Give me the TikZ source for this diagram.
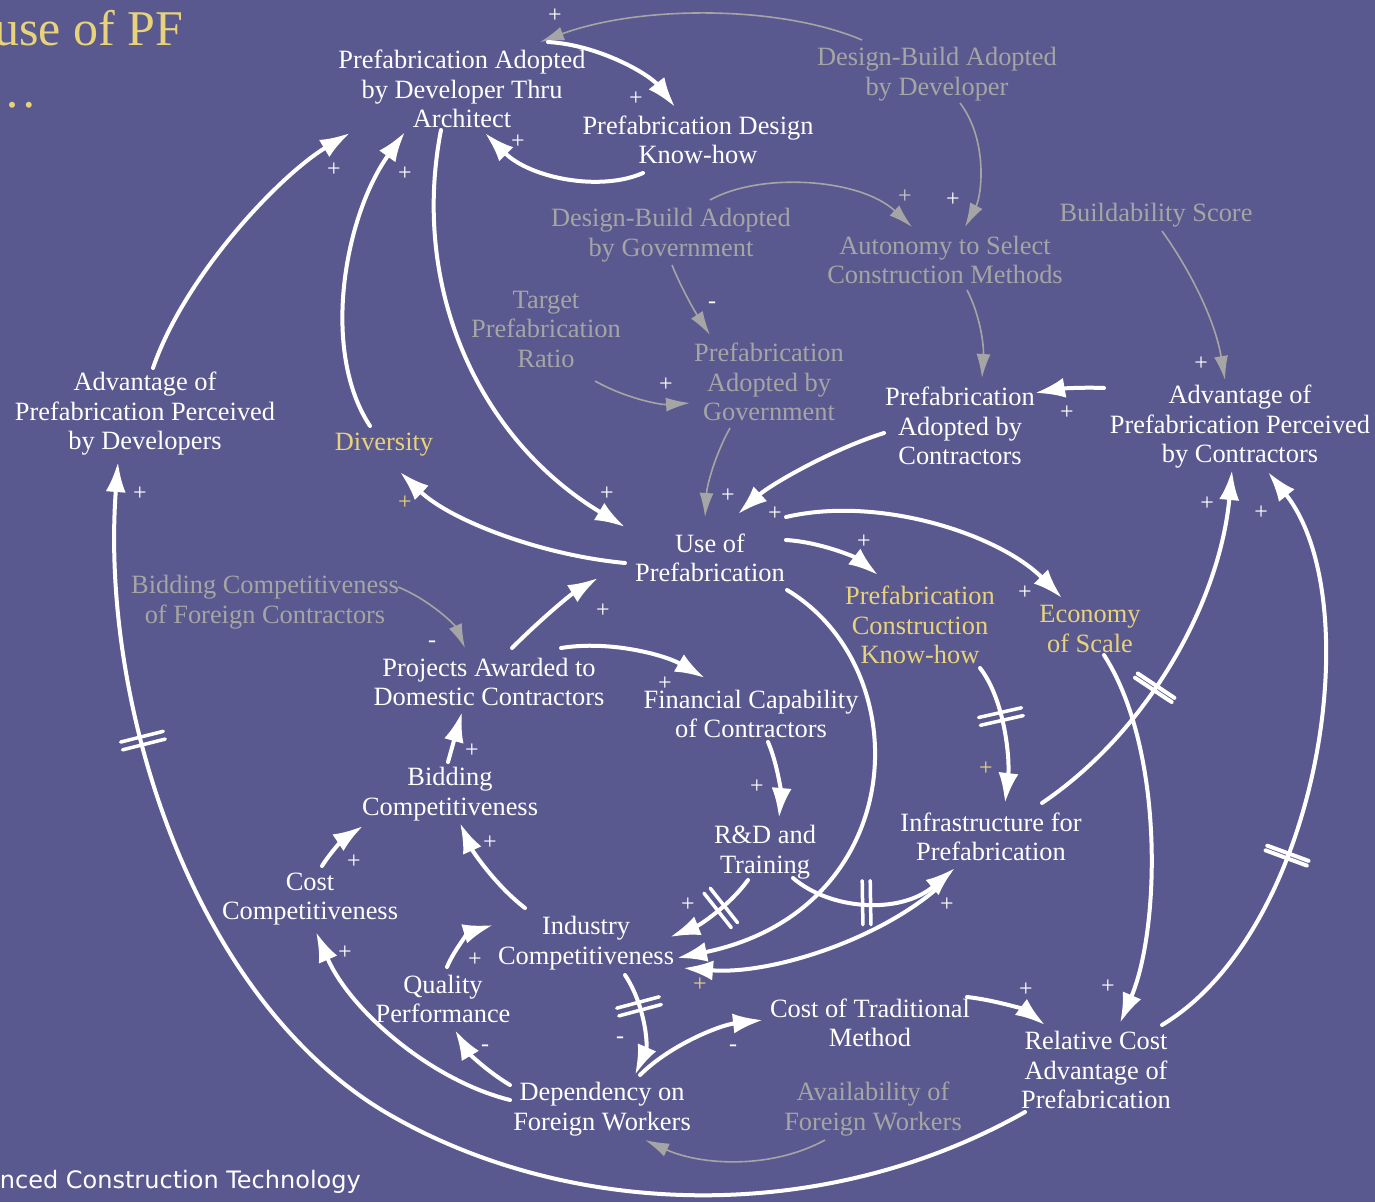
\documentclass[tikz,border=0pt]{standalone}
\usepackage{fontspec}
\setmainfont{Liberation Serif}
\newfontfamily\sansf{DejaVu Sans}
\usetikzlibrary{arrows.meta,decorations.markings}
\definecolor{bgc}{RGB}{90,89,143}
\definecolor{yc}{RGB}{232,211,122}
\definecolor{gc}{RGB}{165,165,165}
\begin{document}
\begin{tikzpicture}[x=1pt,y=-1pt,
  v/.style={font=\fontsize{26.4}{29.5}\selectfont,align=center,inner sep=0pt,text=white},
  vg/.style={v,text=gc},
  vy/.style={v,text=yc},
  sg/.style={font=\fontsize{24}{24}\selectfont,inner sep=0pt,text=white},
  sgy/.style={sg,text=yc},
  sgg/.style={sg,text=gc!60!white},
  arr/.style={draw=white,line width=4pt,line cap=round,-{Latex[length=30pt,width=20pt]}},
  garr/.style={draw=gc,line width=1.6pt,-{Latex[length=24pt,width=14pt]}},
  delaymark/.style={postaction={decorate,decoration={markings,mark=at position #1 with {\draw[white,line width=3.5pt,line cap=round,-] (-4,-22)--(-4,22) (4,-22)--(4,22);}}}},
  delaybar/.style={postaction={decorate,decoration={markings,mark=at position #1 with {\draw[white,line width=4pt,line cap=round,-] (-2.5,-22)--(-2.5,22) (2.5,-22)--(2.5,22);}}}}
]
\useasboundingbox (0,0) rectangle (1375,1202);
\clip (0,0) rectangle (1375,1202);
\fill[bgc] (0,0) rectangle (1375,1202);

% titles
\node[anchor=base west,inner sep=0pt,text=yc,font=\fontsize{50}{50}\selectfont] (title) at (-6,45) {use of PF};
\node[anchor=base west,inner sep=0pt,text=yc,font=\fontsize{50}{50}\selectfont] (dots) at (-13,107) {\ldots};
\node[anchor=base east,inner sep=0pt,text=white,font=\sansf\fontsize{24}{24}\selectfont] (foot) at (361,1188) {nced Construction Technology};

% variables
\node[v]  (devarch)  at (462,89)   {Prefabrication Adopted\\by Developer Thru\\Architect};
\node[v]  (designkh) at (698,140)  {Prefabrication Design\\Know-how};
\node[vg] (dbdev)    at (937,74)   {Design-Build Adopted\\by Developer};
\node[vg] (dbgov)    at (671,235)  {Design-Build Adopted\\by Government};
\node[vg] (auton)    at (945,260)  {Autonomy to Select\\Construction Methods};
\node[vg] (build)    at (1156,215) {Buildability Score};
\node[vg] (target)   at (546,329)  {Target\\Prefabrication\\Ratio};
\node[vg] (pfgov)    at (769,382)  {Prefabrication\\Adopted by\\Government};
\node[v]  (pfcon)    at (960,426)  {Prefabrication\\Adopted by\\Contractors};
\node[v]  (advcon)   at (1240,427) {Advantage of\\Prefabrication Perceived\\by Contractors};
\node[v]  (advdev)   at (145,414)  {Advantage of\\Prefabrication Perceived\\by Developers};
\node[vy] (div)      at (384,445)  {Diversity};
\node[v]  (use)      at (710,558)  {Use of\\Prefabrication};
\node[vy] (pckh)     at (920,625)  {Prefabrication\\Construction\\Know-how};
\node[vy] (econ)     at (1090,629) {Economy\\of Scale};
\node[vg] (bidf)     at (265,602)  {Bidding Competitiveness\\of Foreign Contractors};
\node[v]  (proj)     at (489,682)  {Projects Awarded to\\Domestic Contractors};
\node[v]  (fin)      at (751,714)  {Financial Capability\\of Contractors};
\node[v]  (bid)      at (450,794)  {Bidding\\Competitiveness};
\node[v]  (rd)       at (765,852)  {R\&D and\\Training};
\node[v]  (infra)    at (991,837)  {Infrastructure for\\Prefabrication};
\node[v]  (costc)    at (310,899)  {Cost\\Competitiveness};
\node[v]  (ind)      at (586,943)  {Industry\\Competitiveness};
\node[v]  (qual)     at (443,999)  {Quality\\Performance};
\node[v]  (costt)    at (870,1023) {Cost of Traditional\\Method};
\node[v]  (rel)      at (1096,1070){Relative Cost\\Advantage of\\Prefabrication};
\node[v]  (dep)      at (602,1109) {Dependency on\\Foreign Workers};
\node[vg] (avail)    at (873,1109) {Availability of\\Foreign Workers};

% gray links
\draw[garr] ([shift={(-75,-34)}]dbdev.center) .. controls (780,5) and (640,5) .. ([shift={(78,-47)}]devarch.center);
\draw[garr] ([shift={(23,29)}]dbdev.center) .. controls (988,140) and (982,195) .. ([shift={(20,-33)}]auton.center);
\draw[garr] ([shift={(39,-35)}]dbgov.center) .. controls (760,172) and (860,178) .. ([shift={(-33,-33)}]auton.center);
\draw[garr] ([shift={(1,30)}]dbgov.center) .. controls (682,290) and (697,315) .. ([shift={(-59,-47)}]pfgov.center);
\draw[garr] ([shift={(49,52)}]target.center) .. controls (625,398) and (660,405) .. ([shift={(-79,21)}]pfgov.center);
\draw[garr] ([shift={(22,30)}]auton.center) .. controls (980,315) and (984,345) .. ([shift={(22,-48)}]pfcon.center);
\draw[garr] ([shift={(6,16)}]build.center) .. controls (1190,270) and (1215,320) .. ([shift={(-15,-47)}]advcon.center);
\draw[garr] ([shift={(-39,46)}]pfgov.center) .. controls (715,455) and (707,485) .. ([shift={(-5,-41)}]use.center);
\draw[garr] ([shift={(133,-15)}]bidf.center) .. controls (430,600) and (455,625) .. ([shift={(-24,-34)}]proj.center);
\draw[garr] ([shift={(-48,31)}]avail.center) .. controls (770,1170) and (700,1165) .. ([shift={(43,31)}]dep.center);

% white links
\draw[arr] ([shift={(86,-47)}]devarch.center) .. controls (600,45) and (650,75) .. ([shift={(-23,-33)}]designkh.center);
\draw[arr] ([shift={(-55,33)}]designkh.center) .. controls (600,192) and (530,178) .. ([shift={(23,44)}]devarch.center);
\draw[arr] ([shift={(-136,-39)}]advcon.center) .. controls (1080,387) and (1058,389) .. ([shift={(75,-33)}]pfcon.center);
\draw[arr] ([shift={(-76,7)}]pfcon.center) .. controls (830,450) and (770,485) .. ([shift={(28,-44)}]use.center);
\draw[arr] ([shift={(76,-41)}]use.center) .. controls (880,495) and (1000,535) .. ([shift={(-28,-31)}]econ.center);
\draw[arr] ([shift={(76,-18)}]use.center) .. controls (820,542) and (855,557) .. ([shift={(-42,-50)}]pckh.center);
\draw[arr] ([shift={(-21,41)}]devarch.center) .. controls (410,290) and (480,440) .. ([shift={(-85,-31)}]use.center);
\draw[arr] ([shift={(-14,-19)}]div.center) .. controls (320,350) and (345,215) .. ([shift={(-57,43)}]devarch.center);
\draw[arr] ([shift={(-85,5)}]use.center) .. controls (540,555) and (450,520) .. ([shift={(16,27)}]div.center);
\draw[arr] ([shift={(8,-46)}]advdev.center) .. controls (185,275) and (280,175) .. ([shift={(-112,44)}]devarch.center);
\draw[arr] ([shift={(23,-34)}]proj.center) .. controls (540,620) and (570,595) .. ([shift={(-112,20)}]use.center);
\draw[arr] ([shift={(72,-34)}]proj.center) .. controls (610,640) and (665,655) .. ([shift={(-46,-36)}]fin.center);
\draw[arr] ([shift={(-2,-32)}]bid.center) -- ([shift={(-27,30)}]proj.center);
\draw[arr] ([shift={(17,28)}]fin.center) .. controls (778,765) and (781,795) .. ([shift={(14,-34)}]rd.center);
\draw[arr] ([shift={(12,-33)}]costc.center) .. controls (332,850) and (345,838) .. ([shift={(-87,32)}]bid.center);
\draw[arr] ([shift={(-61,-35)}]ind.center) .. controls (495,885) and (472,850) .. ([shift={(10,29)}]bid.center);
\draw[arr,delaymark=0.4] ([shift={(-17,28)}]rd.center) .. controls (730,905) and (700,925) .. ([shift={(84,-6)}]ind.center);
\draw[arr] ([shift={(77,32)}]use.center) .. controls (920,670) and (910,910) .. ([shift={(91,15)}]ind.center);
\draw[arr,delaymark=0.45] ([shift={(28,26)}]rd.center) .. controls (830,910) and (900,915) .. ([shift={(-36,31)}]infra.center);
\draw[arr] ([shift={(-50,48)}]infra.center) .. controls (880,940) and (770,975) .. ([shift={(97,25)}]ind.center);
\draw[arr,delaymark=0.33] ([shift={(39,32)}]ind.center) .. controls (645,1005) and (648,1045) .. ([shift={(33,-34)}]dep.center);
\draw[arr] ([shift={(38,-34)}]dep.center) .. controls (670,1045) and (720,1025) .. ([shift={(-107,-3)}]costt.center);
\draw[arr] ([shift={(-92,-24)}]dep.center) .. controls (485,1070) and (468,1052) .. ([shift={(12,31)}]qual.center);
\draw[arr] ([shift={(4,-32)}]qual.center) .. controls (455,948) and (470,932) .. ([shift={(-93,-18)}]ind.center);
\draw[arr] ([shift={(-92,-9)}]dep.center) .. controls (430,1080) and (350,1010) .. ([shift={(6,33)}]costc.center);
\draw[arr] ([shift={(97,-26)}]costt.center) .. controls (995,1000) and (1025,1010) .. ([shift={(-51,-45)}]rel.center);
\draw[arr] ([shift={(14,26)}]econ.center) .. controls (1165,750) and (1160,930) .. ([shift={(24,-47)}]rel.center);
\draw[arr,delaymark=0.38] ([shift={(60,43)}]pckh.center) .. controls (1005,700) and (1010,760) .. ([shift={(14,-34)}]infra.center);
\draw[arr,delaybar=0.41] ([shift={(51,-34)}]infra.center) .. controls (1150,730) and (1220,600) .. ([shift={(-8,43)}]advcon.center);
\draw[arr,delaybar=0.35] ([shift={(66,-45)}]rel.center) .. controls (1320,930) and (1370,600) .. ([shift={(28,45)}]advcon.center);
\coordinate (bottomarc) at (385,1112);
\draw[arr,delaymark=0.8] ([shift={(-71,42)}]rel.center) .. controls (820,1228) and (565,1218) .. (bottomarc) .. controls (190,995) and (100,700) .. ([shift={(-27,48)}]advdev.center);

% polarity signs
\node[sg] (s1) at (555,16) {+};
\node[sg] (s2) at (636,99) {+};
\node[sg] (s3) at (518,142) {+};
\node[sg] (s4) at (334,170) {+};
\node[sg] (s5) at (405,174) {+};
\node[sgg] (s6) at (905,197) {+};
\node[sg] (s7) at (953,200) {+};
\node[sg] (s8) at (712,305) {-};
\node[sg] (s9) at (666,385) {+};
\node[sg] (s10) at (1201,364) {+};
\node[sg] (s11) at (1067,413) {+};
\node[sg] (s12) at (607,494) {+};
\node[sg] (s13) at (728,496) {+};
\node[sg] (s14) at (775,514) {+};
\node[sgy] (s15) at (405,503) {+};
\node[sg] (s16) at (864,542) {+};
\node[sg] (s17) at (1025,593) {+};
\node[sg] (s18) at (603,611) {+};
\node[sg] (s19) at (432,644) {-};
\node[sg] (s20) at (665,684) {+};
\node[sg] (s21) at (472,751) {+};
\node[sg] (s22) at (757,787) {+};
\node[sgy] (s23) at (986,769) {+};
\node[sg] (s24) at (354,862) {+};
\node[sg] (s25) at (490,843) {+};
\node[sg] (s26) at (688,905) {+};
\node[sg] (s27) at (947,905) {+};
\node[sg] (s28) at (475,960) {+};
\node[sg] (s29) at (345,953) {+};
\node[sgy] (s30) at (700,985) {+};
\node[sg] (s31) at (620,1040) {-};
\node[sg] (s32) at (733,1048) {-};
\node[sg] (s33) at (485,1048) {-};
\node[sg] (s34) at (1026,990) {+};
\node[sg] (s35) at (1108,987) {+};
\node[sg] (s36) at (1207,504) {+};
\node[sg] (s37) at (1261,513) {+};
\node[sg] (s38) at (140,494) {+};
\end{tikzpicture}
\end{document}
